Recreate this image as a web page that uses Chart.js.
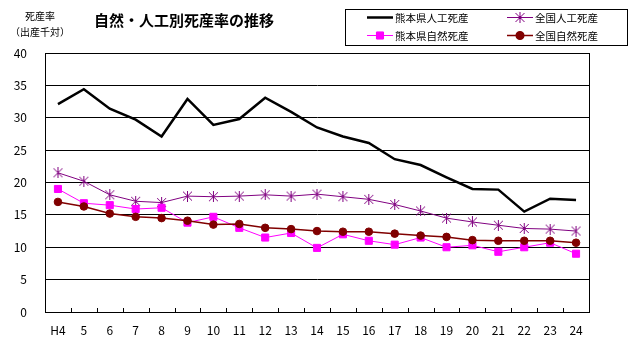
<!DOCTYPE html>
<html>
<head>
<meta charset="utf-8">
<script src="https://cdn.jsdelivr.net/npm/chart.js@4/dist/chart.umd.min.js"></script>
<style>
  html, body { margin: 0; padding: 0; background: #fff; }
  #chart { display: block; }
</style>
</head>
<body>
<canvas id="chart" width="636" height="339"></canvas>
<script>
// data (死産率, 出産千対)
const categories = ['H4', '5', '6', '7', '8', '9', '10', '11', '12', '13', '14',
  '15', '16', '17', '18', '19', '20', '21', '22', '23', '24'];
const kumamotoArtificial = [32.1, 34.4, 31.4, 29.7, 27.1, 32.9, 28.9, 29.8, 33.1, 30.9, 28.5,
  27.1, 26.1, 23.6, 22.7, 20.8, 19.0, 18.9, 15.5, 17.5, 17.3];
const nationalArtificial = [21.5, 20.2, 18.1, 17.1, 16.9, 17.9, 17.8, 17.9, 18.1, 17.9, 18.2,
  17.8, 17.4, 16.6, 15.6, 14.5, 13.9, 13.4, 12.9, 12.8, 12.5];
const kumamotoNatural = [19.0, 16.8, 16.5, 15.9, 16.1, 13.8, 14.7, 13.0, 11.5, 12.2, 9.9,
  12.0, 11.0, 10.4, 11.5, 10.0, 10.3, 9.3, 10.0, 10.7, 9.0];
const nationalNatural = [17.0, 16.3, 15.2, 14.7, 14.5, 14.1, 13.5, 13.6, 13.0, 12.8, 12.5,
  12.4, 12.4, 12.1, 11.8, 11.6, 11.1, 11.0, 11.0, 11.0, 10.7];
const seriesNames = ['熊本県人工死産', '全国人工死産', '熊本県自然死産', '全国自然死産'];
const yMin = 0, yMax = 40, yStep = 5;

const FONT = '"Noto Sans CJK JP", "Noto Sans", sans-serif';

// asterisk marker like the excel one (X plus a vertical bar)
function makeAsterisk(color) {
  const c = document.createElement('canvas');
  c.width = 11; c.height = 11;
  const g = c.getContext('2d');
  g.strokeStyle = color;
  g.lineWidth = 1;
  g.beginPath();
  g.moveTo(5.5, 0); g.lineTo(5.5, 11);
  g.moveTo(1, 1); g.lineTo(10, 10);
  g.moveTo(10, 1); g.lineTo(1, 10);
  g.stroke();
  return c;
}
const asterisk = makeAsterisk('#800080');

// title, axis title, legend box, frame and inside ticks
const decorations = {
  id: 'decorations',
  afterDraw(chart) {
    const ctx = chart.ctx;
    const area = chart.chartArea;
    const x = chart.scales.x;
    ctx.save();

    // inside tick marks between categories
    ctx.strokeStyle = '#000';
    ctx.lineWidth = 1;
    ctx.beginPath();
    for (let i = 1; i < categories.length; i++) {
      const px = Math.round((x.getPixelForValue(i - 1) + x.getPixelForValue(i)) / 2) + 0.5;
      ctx.moveTo(px, area.bottom);
      ctx.lineTo(px, area.bottom - 4);
    }
    ctx.stroke();

    // frame
    ctx.strokeRect(Math.round(area.left) + 0.5, Math.round(area.top) + 0.5,
      Math.round(area.right - area.left), Math.round(area.bottom - area.top));

    // title
    ctx.fillStyle = '#000';
    ctx.textAlign = 'center';
    ctx.textBaseline = 'middle';
    ctx.font = 'bold 15px ' + FONT;
    ctx.fillText('自然・人工別死産率の推移', 184, 20);

    // y axis title
    ctx.font = '10px ' + FONT;
    ctx.fillText('死産率', 40, 16);
    ctx.fillText('（出産千対）', 40, 32);

    // legend
    ctx.strokeRect(345.5, 9.5, 282, 36);
    const cols = [367, 507];
    const rows = [17.5, 35.5];
    ctx.textAlign = 'left';
    ctx.font = '10.5px ' + FONT;
    chart.data.datasets.forEach((ds, i) => {
      const lx = cols[i % 2];
      const ly = rows[Math.floor(i / 2)];
      ctx.strokeStyle = ds.borderColor;
      ctx.lineWidth = ds.borderWidth;
      ctx.beginPath();
      ctx.moveTo(lx, ly);
      ctx.lineTo(lx + 26, ly);
      ctx.stroke();
      if (ds.pointRadius > 0) {
        Chart.helpers.drawPoint(ctx, {
          pointStyle: ds.pointStyle,
          radius: ds.pointRadius,
          borderWidth: 1
        }, lx + 13, ly);
        ctx.fillStyle = ds.backgroundColor;
        if (typeof ds.pointStyle === 'string') ctx.fill();
      }
      ctx.fillStyle = '#000';
      ctx.fillText(ds.label, lx + 28, ly + 0.5);
    });
    ctx.restore();
  }
};

new Chart(document.getElementById('chart'), {
  type: 'line',
  data: {
    labels: categories,
    datasets: [
      {
        label: seriesNames[0],
        data: kumamotoArtificial,
        borderColor: '#000000',
        backgroundColor: '#000000',
        borderWidth: 2.5,
        pointRadius: 0,
        order: 4
      },
      {
        label: seriesNames[1],
        data: nationalArtificial,
        borderColor: '#800080',
        backgroundColor: '#800080',
        borderWidth: 1,
        pointStyle: asterisk,
        pointRadius: 5,
        order: 3
      },
      {
        label: seriesNames[2],
        data: kumamotoNatural,
        borderColor: '#FF00FF',
        backgroundColor: '#FF00FF',
        borderWidth: 1,
        pointStyle: 'rect',
        pointRadius: 5,
        pointBorderWidth: 1,
        order: 2
      },
      {
        label: seriesNames[3],
        data: nationalNatural,
        borderColor: '#800000',
        backgroundColor: '#800000',
        borderWidth: 1.5,
        pointStyle: 'circle',
        pointRadius: 3.8,
        pointBorderWidth: 1,
        order: 1
      }
    ]
  },
  options: {
    responsive: false,
    animation: false,
    layout: { padding: { top: 53, right: 47, left: 0, bottom: 0 } },
    plugins: {
      legend: { display: false },
      title: { display: false },
      tooltip: { enabled: false }
    },
    scales: {
      x: {
        offset: true,
        afterFit: (s) => { s.height = 27; },
        grid: { display: false },
        border: { display: true, color: '#000', width: 1 },
        ticks: {
          color: '#000',
          padding: 3,
          maxRotation: 0,
          autoSkip: false,
          font: { family: FONT, size: 12 }
        }
      },
      y: {
        min: yMin,
        max: yMax,
        afterFit: (s) => { s.width = 45; },
        grid: { color: '#000', lineWidth: 1, drawTicks: false },
        border: { display: true, color: '#000', width: 1 },
        ticks: {
          stepSize: yStep,
          color: '#000',
          padding: 18,
          font: { family: FONT, size: 12 }
        }
      }
    }
  },
  plugins: [decorations]
});
</script>
</body>
</html>
